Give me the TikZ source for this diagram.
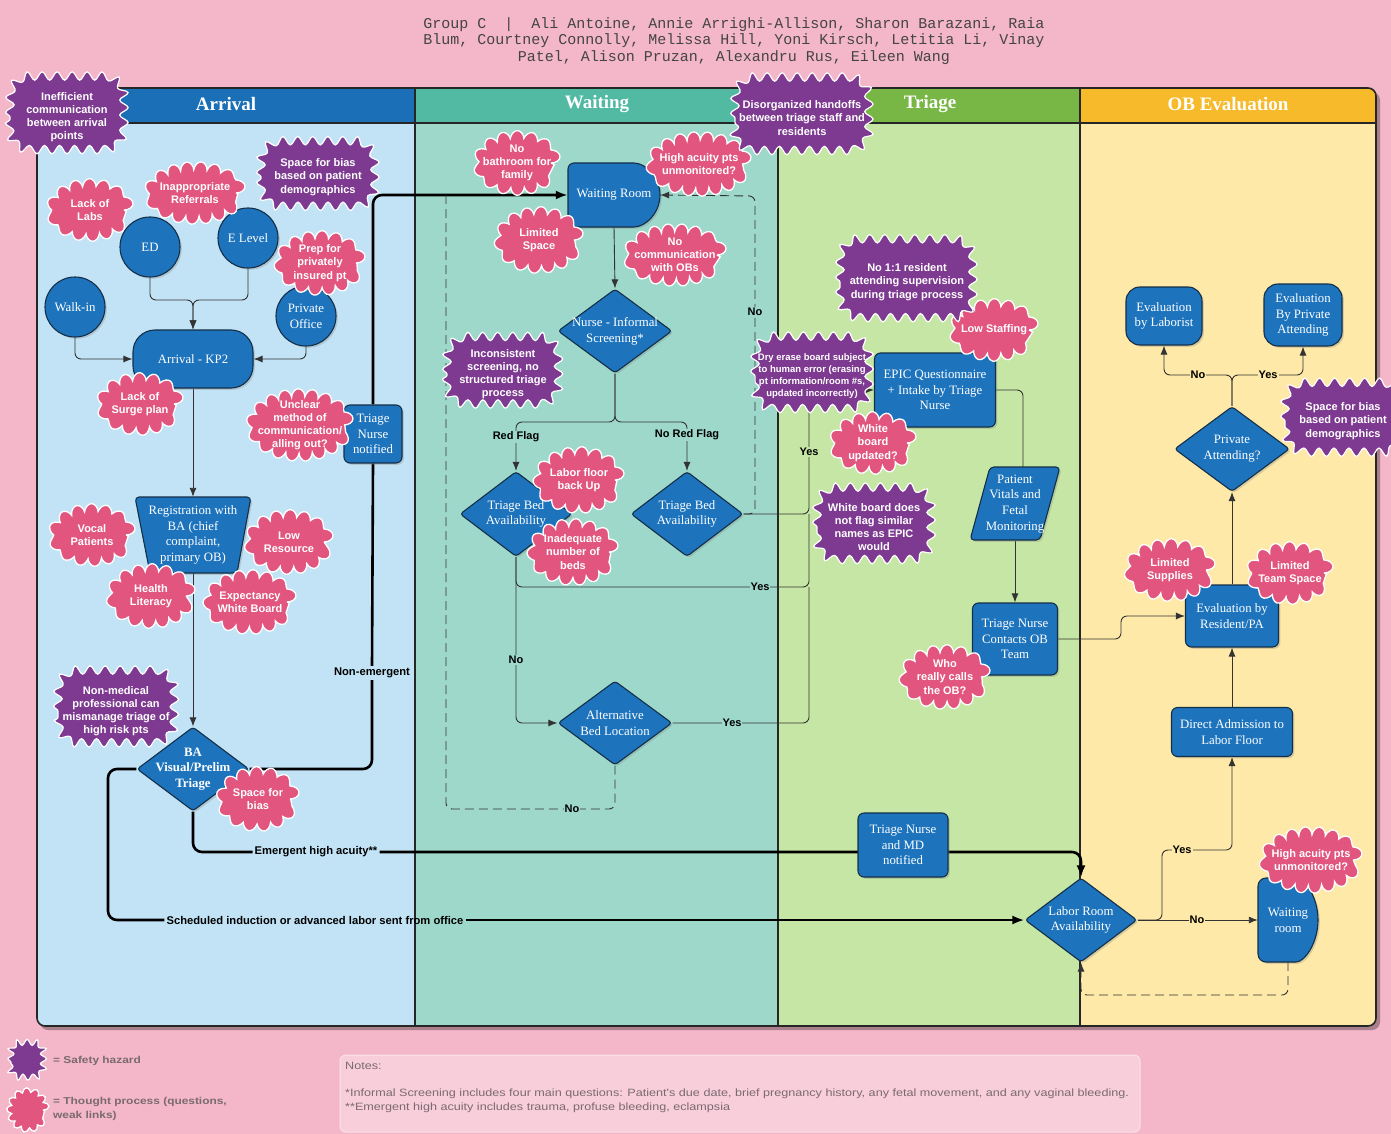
\documentclass[tikz,border=0pt]{standalone}
\usepackage{fontspec}
\setmainfont{Liberation Serif}
\setsansfont{Liberation Sans}
\setmonofont{Liberation Mono}
\newfontfamily\notefont{Liberation Sans}[FakeStretch=1.19]
\usetikzlibrary{shapes.geometric,decorations.pathmorphing,arrows.meta,shadows,calc}
\pgfdeclarelayer{lanes}
\pgfdeclarelayer{edges}
\pgfsetlayers{lanes,edges,main}

\definecolor{pagebg}{HTML}{F3B7C9}
\definecolor{arrH}{HTML}{1B6FB6}
\definecolor{arrB}{HTML}{C2E3F5}
\definecolor{waiH}{HTML}{52B9A3}
\definecolor{waiB}{HTML}{9ED8CB}
\definecolor{triH}{HTML}{78B746}
\definecolor{triB}{HTML}{C6E6A5}
\definecolor{obH}{HTML}{F6BA2A}
\definecolor{obB}{HTML}{FEE9A8}
\definecolor{nodeblue}{HTML}{1D74BD}
\definecolor{nodeedge}{HTML}{142F48}
\definecolor{cloudpink}{HTML}{E1557F}
\definecolor{hazpurple}{HTML}{7D3A90}
\definecolor{notesbg}{HTML}{F8CEDB}
\definecolor{txtgray}{HTML}{444444}
\definecolor{leggray}{HTML}{7A6A70}

\tikzset{
  shd/.style={drop shadow={opacity=0.3,shadow xshift=1.8pt,shadow yshift=-1.8pt}},
  bshape/.style={fill=nodeblue,draw=nodeedge,line width=1.1pt,shd},
  btext/.style={text=white,font=\fontsize{12.8}{15.8}\selectfont,align=center,inner sep=0pt},
  bbox/.style={bshape,btext,rectangle,rounded corners=6pt},
  bcirc/.style={bshape,btext,circle,minimum size=60pt},
  bdia/.style={bshape,diamond,inner sep=0pt,rounded corners=3pt},
  cloudpath/.style={fill=cloudpink,draw=white,line width=1.3pt,decorate,decoration={bumps,mirror,segment length=26pt,amplitude=9pt}},
  hazpath/.style={fill=hazpurple,draw=white,line width=1.2pt,decorate,decoration={snake,segment length=15pt,amplitude=4.2pt}},
  ctxt/.style={text=white,font=\sffamily\bfseries\fontsize{11}{13.2}\selectfont,align=center,inner sep=0pt},
  conn/.style={draw=black!80,line width=0.9pt,rounded corners=6pt},
  bigconn/.style={draw=black,line width=2.6pt,rounded corners=9pt},
  arrowtip/.style={-{Latex[length=9pt,width=7pt]}},
  bigtip/.style={-{Latex[length=12pt,width=9pt]}},
  dashconn/.style={conn,dash pattern=on 9pt off 5pt},
  lbl/.style={font=\sffamily\bfseries\fontsize{11}{13}\selectfont,fill=#1,inner sep=1pt,text=black},
  biglbl/.style={font=\sffamily\bfseries\fontsize{11.2}{13}\selectfont,inner sep=2pt,text=black},
  lanetitle/.style={text=white,font=\bfseries\fontsize{19}{22}\selectfont},
  legtxt/.style={font=\notefont\bfseries\fontsize{10}{14}\selectfont,text=leggray,inner sep=0pt},
  notetxt/.style={font=\notefont\fontsize{10.6}{13}\selectfont,text=leggray,inner sep=0pt},
}

\newcommand\mythought[6]{%
  \path[cloudpath] (#1,#2) ellipse [x radius=#3pt, y radius=#4pt];
  \node[ctxt] (#5) at (#1,#2) {#6};}
% rounded-rectangle wavy outline: [opts]{x}{y}{half width}{half height}{corner radius}
\newcommand\hazshape[6][]{%
  \path[hazpath,#1] ({#2-(#4)},{#3}) -- ({#2-(#4)},{#3+(#5)-(#6)})
    arc[start angle=180,end angle=90,radius=#6pt] -- ({#2+(#4)-(#6)},{#3+(#5)})
    arc[start angle=90,end angle=0,radius=#6pt] -- ({#2+(#4)},{#3-(#5)+(#6)})
    arc[start angle=0,end angle=-90,radius=#6pt] -- ({#2-(#4)+(#6)},{#3-(#5)})
    arc[start angle=-90,end angle=-180,radius=#6pt] -- cycle;}
\newcommand\myhazard[7][]{%
  \hazshape{#2}{#3}{#4-5}{#5-5}{20}
  \node[ctxt,#1] (#6) at (#2,#3) {#7};}

\begin{document}
\begin{tikzpicture}[x=1pt,y=1pt]
\useasboundingbox (0,0) rectangle (1391,-1134);

% ---------------- lanes ----------------
\begin{pgfonlayer}{lanes}
\fill[pagebg] (0,0) rectangle (1391,-1134);
\fill[black,opacity=0.3,rounded corners=8pt] (40,-92) rectangle (1380,-1030);
\begin{scope}
\clip[rounded corners=8pt] (37,-88) rectangle (1376,-1026);
\fill[arrB] (37,-88) rectangle (415,-1026);
\fill[waiB] (415,-88) rectangle (778,-1026);
\fill[triB] (778,-88) rectangle (1080,-1026);
\fill[obB] (1080,-88) rectangle (1376,-1026);
\fill[arrH] (37,-88) rectangle (415,-123);
\fill[waiH] (415,-88) rectangle (778,-123);
\fill[triH] (778,-88) rectangle (1080,-123);
\fill[obH] (1080,-88) rectangle (1376,-123);
\end{scope}
\draw[black!85,line width=1.2pt] (37,-123) -- (1376,-123);
\foreach \xx in {415,778,1080} \draw[black!85,line width=1.2pt] (\xx,-88) -- (\xx,-1026);
\draw[black!85,line width=1.6pt,rounded corners=8pt] (37,-88) rectangle (1376,-1026);
\end{pgfonlayer}

% titles
\node[font=\ttfamily\fontsize{15}{16.5}\selectfont,text=txtgray,align=center] (authors) at (734,-41)
 {Group C\ \ |\ \ Ali Antoine, Annie Arrighi-Allison, Sharon Barazani, Raia\\Blum, Courtney Connolly, Melissa Hill, Yoni Kirsch, Letitia Li, Vinay\\Patel, Alison Pruzan, Alexandru Rus, Eileen Wang};
\node[lanetitle] (tArr) at (226,-104) {Arrival};
\node[lanetitle] (tWai) at (597,-104) {Waiting};
\node[lanetitle] (tTri) at (930,-104) {Triage};
\node[lanetitle] (tOB) at (1228,-104) {OB Evaluation};

% ---------------- Arrival nodes ----------------
\node[bcirc] (ed) at (150,-247) {ED};
\node[bcirc] (el) at (248,-238) {E Level};
\node[bcirc] (walk) at (75,-307) {Walk-in};
\node[bcirc] (po) at (306,-316) {Private\\Office};
\node[bbox,rounded corners=22pt,minimum width=120pt,minimum height=58pt] (kp2) at (193,-359) {Arrival - KP2};
\path[bshape,rounded corners=4pt] (135,-497) -- (251,-497) -- (237,-573) -- (150,-573) -- cycle;
\node[btext,minimum width=100pt,minimum height=76pt] (reg) at (193,-535) {Registration with\\BA (chief\\complaint,\\primary OB)};
\node[bdia,minimum width=112pt,minimum height=84pt,label={[btext,font=\bfseries\fontsize{12.8}{15.8}\selectfont]center:BA\\Visual/Prelim\\Triage}] (ba) at (193,-769) {};
\node[bbox,minimum width=58pt,minimum height=58pt] (tnn) at (373,-434) {Triage\\Nurse\\notified};

% ---------------- Waiting nodes ----------------
\path[bshape,rounded corners=6pt] (568,-195) -- (568,-163) -- (628,-163) arc[start angle=90,end angle=-90,radius=32pt] -- (568,-227) -- cycle;
\node[btext,minimum width=92pt,minimum height=64pt] (wr) at (614,-195) {Waiting Room};
\node[bdia,minimum width=114pt,minimum height=84pt,label={[btext]center:Nurse - Informal\\Screening*}] (nis) at (615,-331) {};
\node[bdia,minimum width=112pt,minimum height=85pt,label={[btext]center:Triage Bed\\Availability}] (tba1) at (516,-514) {};
\node[bdia,minimum width=112pt,minimum height=85pt,label={[btext]center:Triage Bed\\Availability}] (tba2) at (687,-514) {};
\node[bdia,minimum width=114pt,minimum height=84pt,label={[btext]center:Alternative\\Bed Location}] (abl) at (615,-723) {};

% ---------------- Triage nodes ----------------
\node[bbox,minimum width=121pt,minimum height=74pt] (epic) at (935,-390) {EPIC Questionnaire\\+ Intake by Triage\\Nurse};
\path[bshape,rounded corners=4pt] (990,-467) -- (1060,-467) -- (1040,-540) -- (970,-540) -- cycle;
\node[btext,minimum width=70pt,minimum height=73pt] (pv) at (1015,-504) {Patient\\Vitals and\\Fetal\\Monitoring};
\node[bbox,minimum width=85pt,minimum height=72pt] (tnc) at (1015,-639) {Triage Nurse\\Contacts OB\\Team};
\node[bbox,minimum width=90pt,minimum height=64pt] (tnmd) at (903,-845) {Triage Nurse\\and MD\\notified};

% ---------------- OB nodes ----------------
\node[bbox,rounded corners=14pt,minimum width=76pt,minimum height=58pt] (ebl) at (1164,-316) {Evaluation\\by Laborist};
\node[bbox,rounded corners=14pt,minimum width=78pt,minimum height=62pt] (epa) at (1303,-315) {Evaluation\\By Private\\Attending};
\node[bdia,minimum width=115pt,minimum height=85pt,label={[btext]center:Private\\Attending?}] (pa) at (1232,-449) {};
\node[bbox,minimum width=93pt,minimum height=62pt] (erp) at (1232,-616) {Evaluation by\\Resident/PA};
\node[bbox,minimum width=121pt,minimum height=49pt] (dal) at (1232,-732) {Direct Admission to\\Labor Floor};
\node[bdia,minimum width=112pt,minimum height=84pt,label={[btext]center:Labor Room\\Availability}] (lra) at (1081,-920) {};
\path[bshape,rounded corners=8pt] (1258,-920) -- (1258,-878) -- (1288,-878) arc[start angle=90,end angle=-90,x radius=30pt,y radius=42pt] -- (1258,-962) -- cycle;
\node[btext,minimum width=60pt,minimum height=84pt] (owr) at (1288,-920) {Waiting\\room};

% ---------------- labels ----------------
\node[biglbl] (nelbl) at (372,-673) {Non-emergent};
\node[biglbl] (emlbl) at (316,-852) {Emergent high acuity**};
\node[biglbl] (schlbl) at (315,-920) {Scheduled induction or advanced labor sent from office};
\node[lbl=waiB] (l1) at (755,-312) {No};
\node[lbl=waiB] (l2) at (516,-437) {Red Flag};
\node[lbl=waiB] (l3) at (687,-435) {No Red Flag};
\node[lbl=triB] (l4) at (809,-452) {Yes};
\node[lbl=waiB] (l5) at (760,-587) {Yes};
\node[lbl=waiB] (l6) at (516,-660) {No};
\node[lbl=waiB] (l7) at (732,-723) {Yes};
\node[lbl=waiB] (l8) at (572,-809) {No};
\node[lbl=obB] (l9) at (1198,-375) {No};
\node[lbl=obB] (l10) at (1268,-375) {Yes};
\node[lbl=obB] (l11) at (1182,-850) {Yes};
\node[lbl=obB] (l12) at (1197,-920) {No};

% ---------------- connectors ----------------
\begin{pgfonlayer}{edges}
\draw[conn,arrowtip] (ed.south) -- (150,-300) -- (193,-300) -- (kp2.north);
\draw[conn,arrowtip] (el.south) -- (248,-300) -- (193,-300) -- (kp2.north);
\draw[conn,arrowtip] (walk.south) -- (75,-359) -- (kp2.west);
\draw[conn,arrowtip] (po.south) -- (306,-359) -- (kp2.east);
\draw[conn,arrowtip] (kp2.south) -- (reg.north);
\draw[conn,arrowtip] (reg.south) -- (ba.north);
\draw[bigconn] (ba.east) -- (372,-769) -- (nelbl.south);
\draw[bigconn] (nelbl.north) -- (tnn.south);
\draw[bigconn,bigtip] (tnn.north) -- (373,-195) -- (wr.west);
\draw[bigconn] (ba.south) -- (193,-852) -- (emlbl.west);
\draw[bigconn,bigtip] (emlbl.east) -- (1081,-852) -- (lra.north);
\draw[bigconn] (ba.west) -- (108,-769) -- (108,-920) -- (schlbl.west);
\draw[bigconn,bigtip] (schlbl.east) -- (lra.west);
% waiting
\draw[conn,arrowtip] (wr.south) -- (nis.north);
\draw[conn,arrowtip] (nis.south) -- (615,-422) -- (516,-422) -- (tba1.north);
\draw[conn,arrowtip] (nis.south) -- (615,-422) -- (687,-422) -- (tba2.north);
\draw[conn,arrowtip] (tba1.south) -- (516,-723) -- (abl.west);
\draw[conn] (tba1.south) -- (516,-587) -- (809,-587) -- (809,-514);
\draw[conn,arrowtip] (tba2.east) -- (809,-514) -- (809,-390) -- (epic.west);
\draw[conn] (abl.east) -- (809,-723) -- (809,-587);
\draw[dashconn,arrowtip] (tba2.east) -- (755,-514) -- (755,-196) -- (wr.east);
\draw[dashconn] (abl.south) -- (615,-809) -- (446,-809) -- (446,-195);
% triage
\draw[conn] (epic.east) -- (1023,-390) -- ([xshift=8pt]pv.north);
\draw[conn,arrowtip] (pv.south) -- (tnc.north);
\draw[conn,arrowtip] (tnc.east) -- (1121,-639) -- (1121,-616) -- (erp.west);
% OB
\draw[conn,arrowtip] (dal.north) -- (erp.south);
\draw[conn,arrowtip] (erp.north) -- (pa.south);
\draw[conn,arrowtip] (pa.north) -- (1232,-375) -- (1164,-375) -- (ebl.south);
\draw[conn,arrowtip] (pa.north) -- (1232,-375) -- (1303,-375) -- (epa.south);
\draw[conn,arrowtip] (lra.east) -- (1162,-920) -- (1162,-850) -- (1232,-850) -- (dal.south);
\draw[conn,arrowtip] (lra.east) -- (owr.west);
\draw[dashconn,arrowtip] (owr.south) -- (1288,-995) -- (1081,-995) -- (lra.south);
\end{pgfonlayer}

% ---------------- thought clouds ----------------
\mythought{90}{-210}{34}{22}{c1}{Lack of\\Labs}
\mythought{195}{-193}{41}{22}{c2}{Inappropriate\\Referrals}
\mythought{320}{-263}{36}{23}{c3}{Prep for\\privately\\insured pt}
\mythought{140}{-404}{34}{22}{c4}{Lack of\\Surge plan}
\mythought{300}{-425}{44}{27}{c5}{Unclear\\method of\\communication/\\alling out?}
\mythought{92}{-535}{34}{22}{c6}{Vocal\\Patients}
\mythought{289}{-542}{35}{23}{c7}{Low\\Resource}
\mythought{151}{-596}{35}{23}{c8}{Health\\Literacy}
\mythought{250}{-602}{37}{23}{c9}{Expectancy\\White Board}
\mythought{258}{-799}{32}{23}{c10}{Space for\\bias}
\mythought{517}{-163}{34}{23}{c11}{No\\bathroom for\\family}
\mythought{699}{-164}{43}{23}{c12}{High acuity pts\\unmonitored?}
\mythought{539}{-240}{35}{24}{c13}{Limited\\Space}
\mythought{675}{-255}{42}{22}{c14}{No\\communication\\with OBs}
\mythought{579}{-480}{36}{24}{c15}{Labor floor\\back Up}
\mythought{573}{-552}{36}{24}{c16}{Inadequate\\number of\\beds}
\mythought{994}{-330}{35}{22}{c17}{Low Staffing}
\mythought{873}{-443}{34}{22}{c18}{White\\board\\updated?}
\mythought{945}{-677}{36}{23}{c19}{Who\\really calls\\the OB?}
\mythought{1170}{-570}{36}{22}{c20}{Limited\\Supplies}
\mythought{1290}{-573}{34}{22}{c21}{Limited\\Team Space}
\mythought{1311}{-860}{42}{24}{c22}{High acuity pts\\unmonitored?}

% ---------------- safety hazards ----------------
\myhazard{67}{-117}{62}{42}{h1}{Inefficient\\communication\\between arrival\\points}
\myhazard{318}{-177}{62}{38}{h2}{Space for bias\\based on patient\\demographics}
\myhazard{116}{-711}{63}{42}{h3}{Non-medical\\professional can\\mismanage triage of\\high risk pts}
\myhazard{503}{-374}{61}{39}{h4}{Inconsistent\\screening, no\\structured triage\\process}
\myhazard{802}{-118}{72}{42}{h5}{Disorganized handoffs\\between triage staff and\\residents}
\myhazard{907}{-282}{72}{44}{h6}{No 1:1 resident\\attending supervision\\during triage process}
\myhazard[font=\sffamily\bfseries\fontsize{9.5}{11.8}\selectfont]{812}{-376}{62}{41}{h7}{Dry erase board subject\\to human error (erasing\\pt information/room \#s,\\updated incorrectly)}
\myhazard{874}{-527}{62}{41}{h8}{White board does\\not flag similar\\names as EPIC\\would}
\myhazard{1343}{-421}{63}{40}{h9}{Space for bias\\based on patient\\demographics}

% ---------------- legend and notes ----------------
\hazshape[decoration={snake,segment length=10pt,amplitude=3pt}]{28}{-1062}{17}{18}{10}
\path[cloudpath,decoration={bumps,mirror,segment length=15pt,amplitude=6pt}] (28,-1110) ellipse [x radius=15pt, y radius=16pt];
\node[legtxt,anchor=west] (lg1) at (53,-1061) {= Safety hazard};
\node[legtxt,anchor=north west,align=left] (lg2) at (53,-1097) {= Thought process (questions,\\weak links)};
\draw[fill=notesbg,draw=white!60!pagebg,line width=1pt,rounded corners=6pt] (340,-1055) rectangle (1140,-1132);
\node[notetxt,anchor=west] (nt0) at (345,-1066) {Notes:};
\node[notetxt,anchor=west] (nt1) at (345,-1094) {*Informal Screening includes four main questions: Patient's due date, brief pregnancy history, any fetal movement, and any vaginal bleeding.};
\node[notetxt,anchor=west] (nt2) at (345,-1108) {**Emergent high acuity includes trauma, profuse bleeding, eclampsia};
\end{tikzpicture}
\end{document}
